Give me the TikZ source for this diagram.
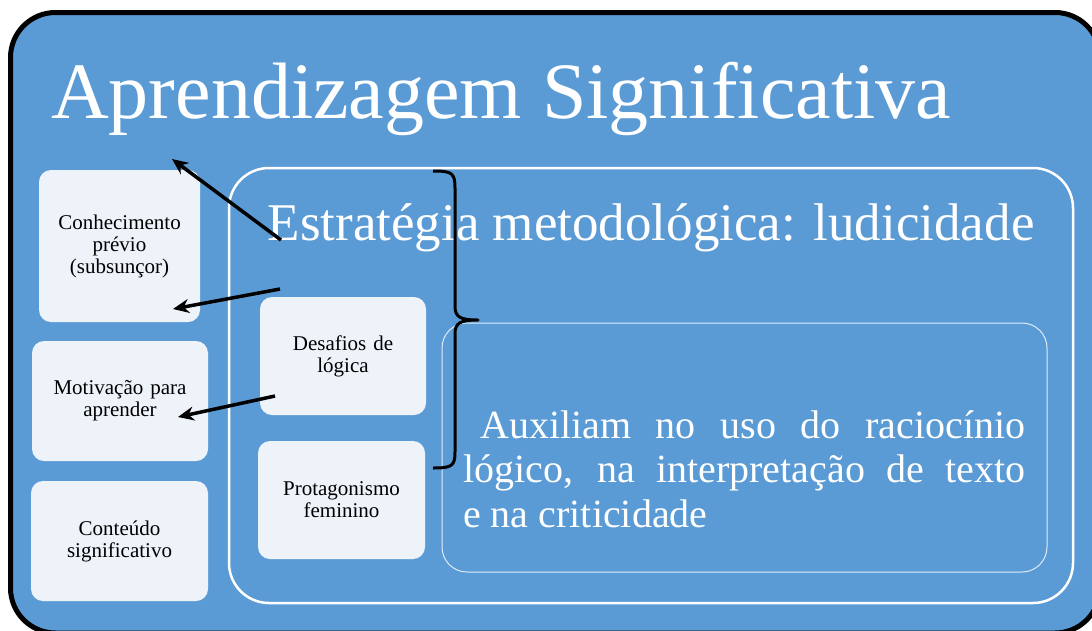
\documentclass[tikz,border=0pt]{standalone}
\usepackage{fontspec}
\setmainfont{Liberation Serif}
\usetikzlibrary{arrows.meta}
\definecolor{xanh}{HTML}{5B9BD5}
\definecolor{nhat}{HTML}{EEF3FA}
\tikzset{
	hop/.style={fill=nhat,rounded corners=12pt,inner sep=0pt,align=center,text width=150pt,font=\fontsize{21}{22}\selectfont},
	mui/.style={line width=3.5pt,-{Stealth[length=16pt,width=14pt]}}
}
\begin{document}
\begin{tikzpicture}[x=1pt,y=-1pt,line join=round]
		\useasboundingbox (0,0) rectangle (1092,630);
		\clip (0,0) rectangle (1092,630);
		%==Khung ngoài
		\draw[fill=xanh,line width=5pt,rounded corners=45pt] (10.5,12.5) rectangle (1100,633);
		\draw[white,line width=2.5pt,rounded corners=40pt] (229,168) rectangle (1073,603);
		\draw[white!80!xanh,line width=1pt,rounded corners=25pt] (442,323) rectangle (1047,572);
		%==Tiêu đề
		\node[anchor=base west,inner sep=0pt,white,font=\fontsize{80}{80}\selectfont] (T) at (51,118) {Aprendizagem Significativa};
		\node[anchor=base,inner sep=0pt,white,font=\fontsize{53}{53}\selectfont] (E) at (651,240) {Estratégia metodológica: ludicidade};
		\node[anchor=base west,inner sep=0pt,white,text width=562pt,align=justify,font=\fontsize{40}{44.5}\selectfont] (X) at (463,438) {\hspace*{17pt}Auxiliam no uso do raciocínio\linebreak lógico, na interpretação de texto\linebreak e na criticidade};
		%==Các hộp
		\node[hop,minimum width=161pt,minimum height=152pt] (K) at (119.5,246) {Conhecimento\\prévio\\(subsunçor)};
		\node[hop,minimum width=176pt,minimum height=120pt] (M) at (120,401) {Motivação para\\aprender};
		\node[hop,minimum width=177pt,minimum height=120pt] (C) at (119.5,541) {Conteúdo\\significativo};
		\node[hop,minimum width=166pt,minimum height=118pt] (D) at (343,356) {Desafios de\\lógica};
		\node[hop,minimum width=167pt,minimum height=118pt] (P) at (341.5,500) {Protagonismo\\feminino};
		%==Ngoặc
		\draw[line width=3pt] (433,171) .. controls (452,171) and (455,173) .. (455,188) -- (455,306)
			.. controls (455,317) and (460,320) .. (478,320) .. controls (460,320) and (455,323) .. (455,334)
			-- (455,452) .. controls (455,466) and (452,468) .. (433,468);
		%==Mũi tên
		\coordinate (s1) at (281,240); \coordinate (t1) at (172,159);
		\coordinate (s2) at (280,289); \coordinate (t2) at (173,309);
		\coordinate (s3) at (275,396); \coordinate (t3) at (178,417);
		\foreach \i in {1,2,3}\draw[mui] (s\i)--(t\i);
\end{tikzpicture}
\end{document}
